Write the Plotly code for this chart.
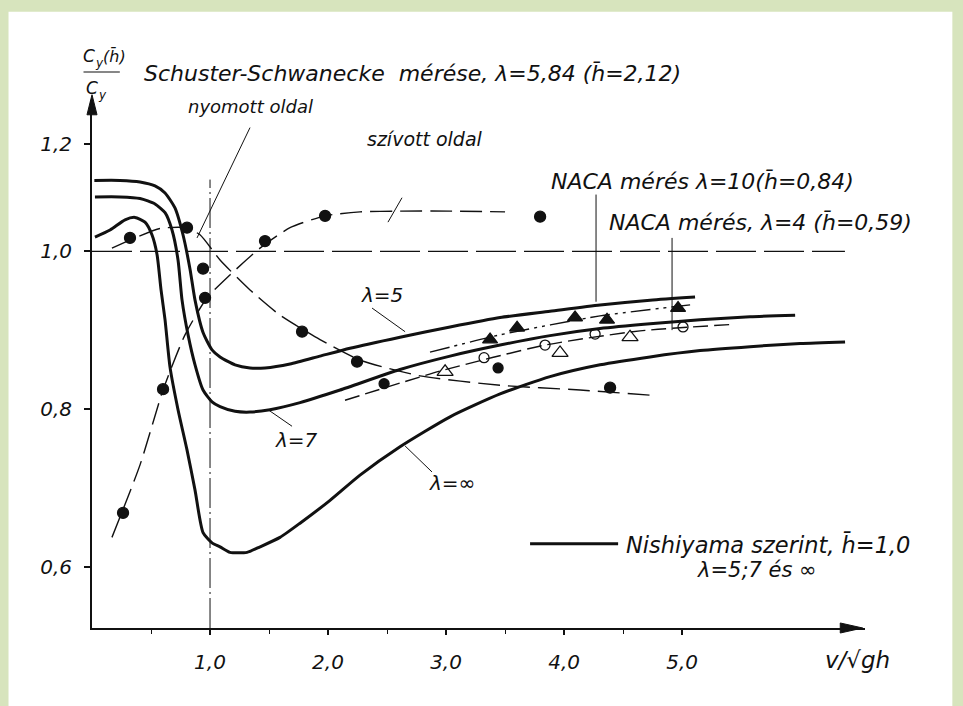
import plotly.graph_objects as go

# ---- Nishiyama theory curves (solid) ----
lam5_x = [0.02, 0.237, 0.407, 0.534, 0.619, 0.703, 0.771, 0.831, 0.873, 0.941, 1.017, 1.085, 1.212, 1.339, 1.466, 1.678, 1.932, 2.186, 2.610, 3.034, 3.458, 3.881, 4.305, 4.729, 5.110]
lam5_y = [1.090, 1.090, 1.088, 1.083, 1.074, 1.055, 1.021, 0.977, 0.938, 0.897, 0.875, 0.866, 0.856, 0.852, 0.852, 0.857, 0.867, 0.877, 0.891, 0.904, 0.916, 0.924, 0.932, 0.938, 0.942]

lam7_x = [0.025, 0.237, 0.407, 0.534, 0.619, 0.678, 0.729, 0.763, 0.814, 0.873, 0.941, 1.017, 1.085, 1.212, 1.339, 1.508, 1.763, 2.102, 2.610, 3.034, 3.458, 3.881, 4.305, 4.729, 5.153, 5.576, 5.958]
lam7_y = [1.069, 1.069, 1.067, 1.060, 1.049, 1.027, 0.989, 0.938, 0.894, 0.856, 0.824, 0.809, 0.803, 0.797, 0.796, 0.799, 0.808, 0.824, 0.850, 0.867, 0.881, 0.893, 0.902, 0.908, 0.913, 0.917, 0.919]

laminf_x = [0.025, 0.153, 0.280, 0.364, 0.449, 0.508, 0.551, 0.585, 0.619, 0.661, 0.729, 0.805, 0.873, 0.941, 1.017, 1.085, 1.169, 1.314, 1.424, 1.593, 1.763, 2.017, 2.271, 2.610, 3.034, 3.458, 3.881, 4.305, 4.729, 5.153, 5.576, 6.000, 6.381]
laminf_y = [1.018, 1.027, 1.040, 1.043, 1.037, 1.021, 0.996, 0.951, 0.913, 0.853, 0.799, 0.748, 0.697, 0.643, 0.630, 0.625, 0.618, 0.618, 0.625, 0.637, 0.655, 0.684, 0.716, 0.752, 0.790, 0.819, 0.841, 0.856, 0.866, 0.874, 0.879, 0.883, 0.885]

# ---- Schuster-Schwanecke, szivott oldal ----
sziv_line_x = [0.169, 0.407, 0.602, 0.788, 0.975, 1.169, 1.424, 1.678, 1.975, 2.271, 2.610, 3.034, 3.500]
sziv_line_y = [0.637, 0.729, 0.824, 0.894, 0.941, 0.970, 1.004, 1.030, 1.045, 1.050, 1.051, 1.051, 1.050]
sziv_pts_x = [0.263, 0.602, 0.958, 1.466, 1.975, 3.797]
sziv_pts_y = [0.668, 0.825, 0.941, 1.013, 1.045, 1.044]

# ---- Schuster-Schwanecke, nyomott oldal ----
nyom_line_x = [0.169, 0.364, 0.576, 0.788, 0.915, 1.085, 1.339, 1.593, 1.932, 2.271, 2.780, 3.458, 4.136, 4.771]
nyom_line_y = [1.004, 1.017, 1.029, 1.030, 1.021, 0.989, 0.951, 0.919, 0.888, 0.862, 0.842, 0.830, 0.824, 0.817]
nyom_pts_x = [0.322, 0.805, 0.941, 1.780, 2.246, 4.390]
nyom_pts_y = [1.017, 1.030, 0.978, 0.898, 0.860, 0.827]

# ---- NACA lambda=10 ----
naca10_line_x = [2.864, 3.458, 4.305, 5.068]
naca10_line_y = [0.872, 0.894, 0.918, 0.932]
naca10_pts_x = [3.373, 3.602, 4.093, 4.364, 4.966]
naca10_pts_y = [0.888, 0.903, 0.916, 0.913, 0.928]

# ---- NACA lambda=4 ----
naca4_line_x = [2.144, 2.949, 3.839, 4.644, 5.407]
naca4_line_y = [0.811, 0.848, 0.881, 0.899, 0.907]
naca4_open_x = [3.322, 3.839, 4.263, 5.008]
naca4_open_y = [0.865, 0.881, 0.895, 0.904]
naca4_fill_x = [2.475, 3.441]
naca4_fill_y = [0.832, 0.852]
tri_open_x = [2.992, 3.966, 4.559]
tri_open_y = [0.847, 0.871, 0.891]

x_ticks = [1.0, 2.0, 3.0, 4.0, 5.0]
x_ticktext = ["1,0", "2,0", "3,0", "4,0", "5,0"]
x_minor_ticks = [0.5, 1.5, 2.5, 3.5, 4.5]
y_ticks = [0.6, 0.8, 1.0, 1.1365]
y_ticktext = ["0,6", "0,8", "1,0", "1,2"]

X_RANGE = [0, 6.55]
Y_RANGE = [0.522, 1.192]

FONT = "DejaVu Sans, sans-serif"
INK = "#111111"

fig = go.Figure()

def solid(x, y):
    fig.add_trace(go.Scatter(x=x, y=y, mode="lines",
                             line=dict(color=INK, width=3, shape="spline", smoothing=0.6),
                             hoverinfo="skip", showlegend=False))

solid(lam5_x, lam5_y)
solid(lam7_x, lam7_y)
solid(laminf_x, laminf_y)

def dashed(x, y, dash, width=1.4):
    fig.add_trace(go.Scatter(x=x, y=y, mode="lines",
                             line=dict(color=INK, width=width, dash=dash, shape="spline", smoothing=0.6),
                             hoverinfo="skip", showlegend=False))

def pts(x, y, symbol, size=11):
    fig.add_trace(go.Scatter(x=x, y=y, mode="markers",
                             marker=dict(symbol=symbol, size=size, color=INK,
                                         line=dict(color=INK, width=1.3)),
                             hoverinfo="skip", showlegend=False))

dashed(sziv_line_x, sziv_line_y, "22px,8px")
dashed(nyom_line_x, nyom_line_y, "22px,8px")
dashed(naca10_line_x, naca10_line_y, "20px,5px,3px,5px,3px,5px")
dashed(naca4_line_x, naca4_line_y, "15px,6px")

pts(sziv_pts_x, sziv_pts_y, "circle")
pts(nyom_pts_x, nyom_pts_y, "circle")
pts(naca10_pts_x, naca10_pts_y, "triangle-up", 13)
pts(naca4_open_x, naca4_open_y, "circle-open", 10)
pts(naca4_fill_x, naca4_fill_y, "circle", 10)
pts(tri_open_x, tri_open_y, "triangle-up-open", 14)

shapes = []
# frame: white sheet on green paper
shapes.append(dict(type="rect", xref="paper", yref="paper", x0=-0.108, x1=1.113, y0=-0.2, y1=1.167,
                   fillcolor="white", line=dict(width=0), layer="below"))
# reference lines
shapes.append(dict(type="line", xref="x", yref="y", x0=0, x1=6.38, y0=1.0, y1=1.0,
                   line=dict(color=INK, width=1.2, dash="40px,8px")))
shapes.append(dict(type="line", xref="x", yref="y", x0=1.0, x1=1.0, y0=Y_RANGE[0], y1=1.091,
                   line=dict(color=INK, width=1.0, dash="30px,4px,2px,4px")))
# leader lines
leaders = [
    (1.339, 1.157, 0.890, 1.017),
    (2.627, 1.068, 2.508, 1.037),
    (4.271, 1.072, 4.271, 0.936),
    (4.915, 1.017, 4.915, 0.900),
    (2.373, 0.928, 2.653, 0.898),
    (1.695, 0.778, 1.492, 0.799),
    (2.881, 0.720, 2.653, 0.753),
]
for x0, y0, x1, y1 in leaders:
    shapes.append(dict(type="line", xref="x", yref="y", x0=x0, y0=y0, x1=x1, y1=y1,
                       line=dict(color=INK, width=1.0)))
# legend sample line
shapes.append(dict(type="line", xref="x", yref="y", x0=3.712, x1=4.458, y0=0.629, y1=0.629,
                   line=dict(color=INK, width=3)))
# fraction bar of the y title
shapes.append(dict(type="line", xref="paper", yref="paper", x0=-0.011, x1=0.036, y0=1.053, y1=1.053,
                   line=dict(color=INK, width=1.2)))
# axis arrowheads
shapes.append(dict(type="path", xref="paper", yref="paper",
                   path="M -0.0065,0.972 L 0,1.010 L 0.0065,0.972 Z",
                   fillcolor=INK, line=dict(color=INK, width=1)))
shapes.append(dict(type="path", xref="paper", yref="paper",
                   path="M 0.968,-0.0095 L 0.997,0 L 0.968,0.0095 Z",
                   fillcolor=INK, line=dict(color=INK, width=1)))

def txt(x, y, s, size=19, xanchor="center", ref="x"):
    return dict(x=x, y=y, xref="x" if ref == "x" else "paper", yref="y" if ref == "x" else "paper",
                text=s, showarrow=False, xanchor=xanchor, yanchor="middle", borderpad=0,
                font=dict(family=FONT, size=size, color=INK))

annotations = [
    txt(0.414, 1.051, "<i>Schuster-Schwanecke  mérése, λ=5,84 (h̄=2,12)</i>", 22, ref="paper"),
    txt(1.347, 1.184, "<i>nyomott oldal</i>", 18),
    txt(2.822, 1.142, "<i>szívott oldal</i>", 19),
    txt(5.169, 1.088, "<i>NACA mérés λ=10(h̄=0,84)</i>", 22),
    txt(5.661, 1.037, "<i>NACA mérés, λ=4 (h̄=0,59)</i>", 22),
    txt(2.458, 0.945, "<i>λ=5</i>", 20),
    txt(1.729, 0.761, "<i>λ=7</i>", 20),
    txt(3.051, 0.706, "<i>λ=∞</i>", 20),
    txt(4.517, 0.628, "<i>Nishiyama szerint, h̄=1,0</i>", 22.5, "left"),
    txt(5.636, 0.596, "<i>λ=5;7 és ∞</i>", 21),
    txt(0.990, -0.061, "<i>v/√gh</i>", 23, ref="paper"),
    # y-axis title as a fraction  C_y(h̄) / C_y
    txt(-0.0125, 1.0833, "<i>C</i>", 17, "left", ref="paper"),
    txt(0.0020, 1.0700, "<i>y</i>", 12, "left", ref="paper"),
    txt(0.0125, 1.0833, "<i>(h̄)</i>", 16, "left", ref="paper"),
    txt(-0.0085, 1.0227, "<i>C</i>", 17, "left", ref="paper"),
    txt(0.0060, 1.0095, "<i>y</i>", 12, "left", ref="paper"),
]

fig.update_layout(
    width=963, height=706,
    margin=dict(l=92, r=98, t=100, b=78, autoexpand=False),
    paper_bgcolor="#d7e4bd",
    plot_bgcolor="rgba(0,0,0,0)",
    shapes=shapes,
    annotations=annotations,
    showlegend=False,
    xaxis=dict(range=X_RANGE, automargin=False, showline=True, linecolor=INK, linewidth=2, showgrid=False,
               zeroline=False, ticks="outside", ticklen=5, tickwidth=1.5, tickcolor=INK,
               tickvals=x_ticks, ticktext=["<i>%s</i>" % t for t in x_ticktext],
               minor=dict(tickvals=x_minor_ticks, ticks="outside", ticklen=4, tickwidth=1.3,
                          tickcolor=INK, showgrid=False),
               tickfont=dict(family=FONT, size=20, color=INK), ticklabelstandoff=10),
    yaxis=dict(range=Y_RANGE, automargin=False, showline=True, linecolor=INK, linewidth=2, showgrid=False,
               zeroline=False, ticks="outside", ticklen=6, tickwidth=1.5, tickcolor=INK,
               tickvals=y_ticks, ticktext=["<i>%s</i>" % t for t in y_ticktext],
               tickfont=dict(family=FONT, size=20, color=INK), ticklabelstandoff=8),
)

fig.write_html("out.html", config={"displayModeBar": False},
               post_script="document.body.style.margin='0px';")
